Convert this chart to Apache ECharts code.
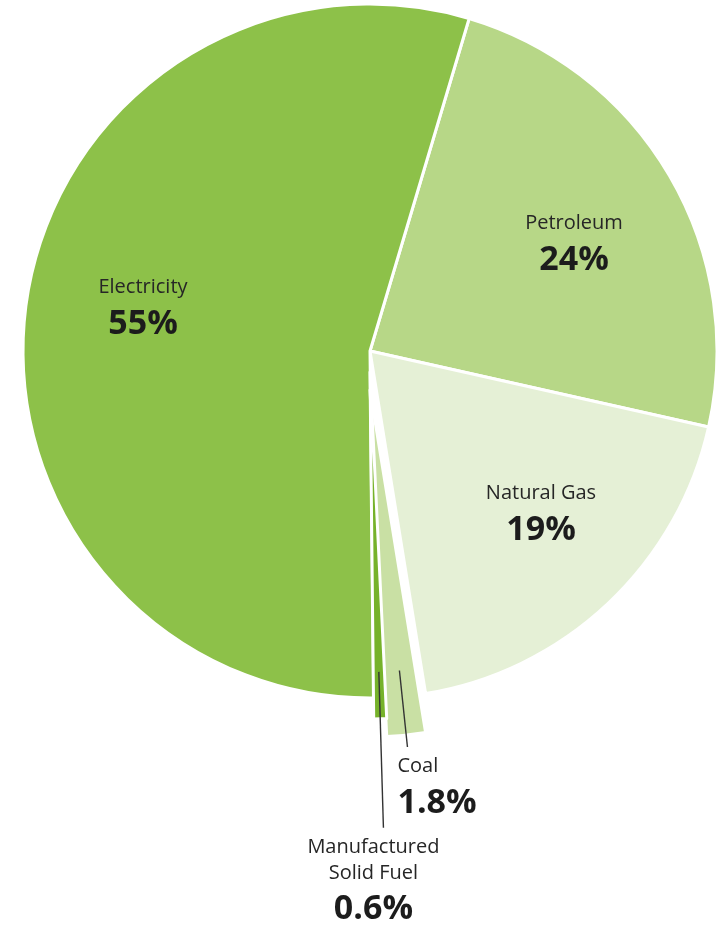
<!DOCTYPE html>
<html>
<head>
<meta charset="utf-8">
<script src="https://cdn.jsdelivr.net/npm/echarts@6/dist/echarts.min.js"></script>
<style>
  html, body { margin: 0; padding: 0; background: #ffffff; }
  #chart { width: 718px; height: 934px; }
</style>
</head>
<body>
<div id="chart"></div>
<script>
// Household energy use by fuel, share of total (%)
const categories = ['Petroleum', 'Natural Gas', 'Coal', 'Manufactured Solid Fuel', 'Electricity'];
const shares = [24, 19, 1.8, 0.6, 55];
const sliceColors = ['#b7d787', '#e5f0d6', '#c9e0a4', '#76b22a', '#8dc149'];
const labelNames = ['Petroleum', 'Natural Gas', 'Coal', 'Manufactured\nSolid Fuel', 'Electricity'];

const FONT = "'Open Sans', 'Noto Sans', sans-serif";
const richStyles = {
  n: { fontFamily: FONT, fontSize: 20, lineHeight: 26, color: '#262626', align: 'center' },
  p: { fontFamily: FONT, fontSize: 34, fontWeight: 'bold', lineHeight: 48, color: '#1c1c1c', align: 'center' }
};
const richStylesLeft = {
  n: Object.assign({}, richStyles.n, { align: 'left' }),
  p: Object.assign({}, richStyles.p, { align: 'left' })
};

// Centre points of the labels drawn inside the large slices
const insideSpots = {
  'Electricity': [143, 311],
  'Petroleum': [574, 247],
  'Natural Gas': [541, 517]
};

const RADIUS = 347;
const START_ANGLE = 73.4;
const PIE_CENTER = [370, 351];
const COAL_CENTER = [370, 390];   // coal wedge pulled down out of the pie
const SOLID_CENTER = [370, 372];  // solid fuel wedge pulled down out of the pie

function labelText(p) {
  return '{n|' + labelNames[p.dataIndex] + '}\n{p|' + shares[p.dataIndex] + '%}';
}

// mode per slice: 'slice' = filled wedge, 'label' = invisible wedge carrying the callout
function buildData(modes, lineLength) {
  return categories.map(function (name, i) {
    const mode = modes[name];
    if (mode === 'slice') {
      return { name: name, value: shares[i], itemStyle: { color: sliceColors[i] } };
    }
    if (mode === 'label') {
      return {
        name: name, value: shares[i],
        itemStyle: { color: 'rgba(0,0,0,0)', borderWidth: 0 },
        label: { show: true },
        labelLine: { show: true, length: lineLength, length2: 0 }
      };
    }
    return {
      name: name, value: shares[i],
      itemStyle: { color: 'rgba(0,0,0,0)', borderWidth: 0 },
      label: { show: false }, labelLine: { show: false }
    };
  });
}

// Leader line that starts inside the slice and runs radially out to the label
function calloutLayout(inset, shiftX, gap, align) {
  return function (p) {
    const pts = p.labelLinePoints;
    if (!pts || pts.length < 2) return {};
    const a = pts[0], b = pts[1];
    const dx = b[0] - a[0], dy = b[1] - a[1];
    const len = Math.hypot(dx, dy) || 1;
    const ux = dx / len, uy = dy / len;
    const start = [a[0] - ux * inset, a[1] - uy * inset];
    return {
      labelLinePoints: [start, b],
      x: b[0] + shiftX,
      y: b[1] + gap,
      align: align,
      verticalAlign: 'top'
    };
  };
}

const commonSeries = {
  type: 'pie',
  radius: RADIUS,
  startAngle: START_ANGLE,
  clockwise: true,
  avoidLabelOverlap: false,
  silent: true,
  animation: false,
  emphasis: { disabled: true },
  itemStyle: { borderColor: '#ffffff', borderWidth: 3 },
  labelLine: { lineStyle: { color: '#333333', width: 1.4 }, smooth: false }
};

const noLabel = { show: false };

const chart = echarts.init(document.getElementById('chart'), null, { renderer: 'canvas' });
chart.setOption({
  backgroundColor: '#ffffff',
  series: [
    Object.assign({}, commonSeries, {
      name: 'main',
      center: PIE_CENTER,
      data: buildData({ 'Petroleum': 'slice', 'Natural Gas': 'slice', 'Electricity': 'slice' }),
      label: {
        show: true, position: 'inside', formatter: labelText,
        rich: richStyles, textBorderWidth: 0
      },
      labelLine: { show: false },
      labelLayout: function (p) {
        const spot = insideSpots[categories[p.dataIndex]];
        if (!spot) return {};
        return { x: spot[0], y: spot[1], align: 'center', verticalAlign: 'middle' };
      }
    }),
    Object.assign({}, commonSeries, {
      name: 'coal',
      center: COAL_CENTER,
      data: buildData({ 'Coal': 'slice' }),
      label: noLabel, labelLine: { show: false }
    }),
    Object.assign({}, commonSeries, {
      name: 'solid',
      center: SOLID_CENTER,
      data: buildData({ 'Manufactured Solid Fuel': 'slice' }),
      label: noLabel, labelLine: { show: false }
    }),
    // Callouts sit on a higher z so their leader lines run over the wedges
    Object.assign({}, commonSeries, {
      name: 'coal-callout',
      z: 5,
      center: COAL_CENTER,
      data: buildData({ 'Coal': 'label' }, 12),
      label: {
        show: true, position: 'outside', formatter: labelText,
        rich: richStylesLeft, textBorderWidth: 0, alignTo: 'none'
      },
      labelLayout: calloutLayout(65, -10, 6, 'left')
    }),
    Object.assign({}, commonSeries, {
      name: 'solid-callout',
      z: 5,
      center: SOLID_CENTER,
      data: buildData({ 'Manufactured Solid Fuel': 'label' }, 109),
      label: {
        show: true, position: 'outside', formatter: labelText,
        rich: richStyles, textBorderWidth: 0, alignTo: 'none'
      },
      labelLayout: calloutLayout(47, -10, 6, 'center')
    })
  ]
});
</script>
</body>
</html>
